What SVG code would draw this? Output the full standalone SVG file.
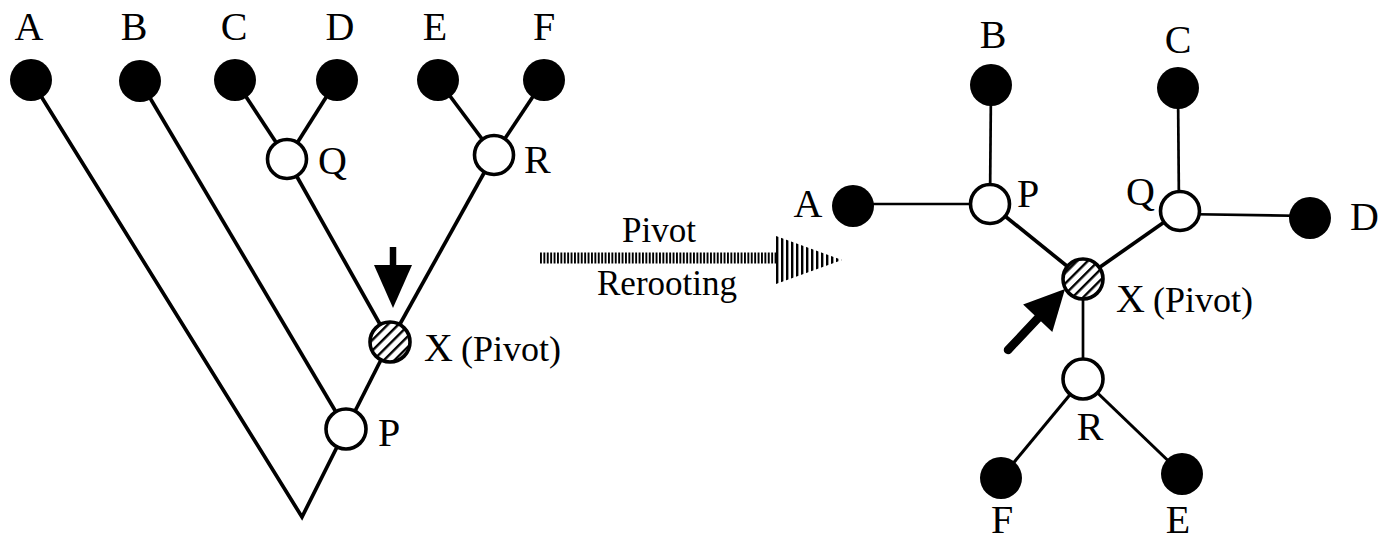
<svg xmlns="http://www.w3.org/2000/svg" width="1381" height="541" viewBox="0 0 1381 541">
  <style>
    .edge { stroke: #000; stroke-width: 3.7; fill: none; stroke-linejoin: miter; }
    .thin { stroke-width: 2.7; }
    .leaf { fill: #000; }
    .inner { fill: #fff; stroke: #000; stroke-width: 3.6; }
    .pivot { fill: url(#hatch); stroke: #000; stroke-width: 3.6; }
    .lbl { font-family: "Liberation Serif", "Times New Roman", serif; font-size: 40px; fill: #000; }
    .mid { text-anchor: middle; }
    .end { text-anchor: end; }
    .small { font-size: 36px; }
    .cap { font-family: "Liberation Serif", "Times New Roman", serif; font-size: 35px; fill: #000; text-anchor: middle; }
  </style>
  <defs>
    <pattern id="hatch" width="7.5" height="7.5" patternUnits="userSpaceOnUse" patternTransform="rotate(45)">
      <rect width="7.5" height="7.5" fill="#fff"/>
      <rect x="0" y="0" width="2.4" height="7.5" fill="#000"/>
    </pattern>
    <pattern id="stripes" x="776" y="0" width="5" height="10" patternUnits="userSpaceOnUse">
      <rect width="5" height="10" fill="#fff"/>
      <rect x="0" y="0" width="2.4" height="10" fill="#000"/>
    </pattern>
  </defs>
  <rect width="1381" height="541" fill="#fff"/>

  <g id="connectors">
    <!-- left tree -->
    <polyline class="edge" points="31,80 302,517 346,429"/>
    <line class="edge" x1="140" y1="81" x2="346" y2="429"/>
    <line class="edge" x1="346" y1="429" x2="390" y2="342"/>
    <line class="edge" x1="390" y1="342" x2="494" y2="155"/>
    <line class="edge" x1="390" y1="342" x2="287" y2="159"/>
    <line class="edge" x1="235" y1="80" x2="287" y2="159"/>
    <line class="edge" x1="337" y1="80" x2="287" y2="159"/>
    <line class="edge" x1="438" y1="80" x2="494" y2="155"/>
    <line class="edge" x1="544" y1="80" x2="494" y2="155"/>
    <!-- right tree -->
    <line class="edge thin" x1="853" y1="204" x2="990" y2="204"/>
    <line class="edge thin" x1="991" y1="85" x2="990" y2="204"/>
    <line class="edge" x1="990" y1="204" x2="1083" y2="279"/>
    <line class="edge" x1="1180" y1="211" x2="1083" y2="279"/>
    <line class="edge thin" x1="1178" y1="88" x2="1179" y2="211"/>
    <line class="edge thin" x1="1180" y1="214" x2="1310" y2="216"/>
    <line class="edge thin" x1="1083" y1="279" x2="1083" y2="379"/>
    <line class="edge" x1="1083" y1="379" x2="1001" y2="478" style="stroke-width:3.1"/>
    <line class="edge" x1="1083" y1="379" x2="1182" y2="474" style="stroke-width:3.1"/>
  </g>

  <g id="pivot-arrow-left">
    <line x1="393" y1="247" x2="393" y2="270" stroke="#000" stroke-width="6.5"/>
    <polygon points="374,265 412,265 393,308" fill="#000"/>
  </g>
  <g id="pivot-arrow-right">
    <line x1="1008" y1="350" x2="1040" y2="316" stroke="#000" stroke-width="8.5" stroke-linecap="round"/>
    <polygon points="1065,289 1052.3,331.9 1023.1,304.5" fill="#000"/>
  </g>

  <g id="rerooting-arrow">
    <line x1="540" y1="258" x2="776" y2="258" stroke="#000" stroke-width="11" stroke-dasharray="1.9 1.5"/>
    <polygon points="776,236 776,284 842,260" fill="url(#stripes)"/>
    <text class="cap" x="659" y="242">Pivot</text>
    <text class="cap" x="667" y="295">Rerooting</text>
  </g>

  <!-- left tree nodes -->
  <g id="L-A"><circle class="leaf" cx="31" cy="80" r="21"/><text class="lbl mid" x="29" y="40">A</text></g>
  <g id="L-B"><circle class="leaf" cx="140" cy="81" r="21"/><text class="lbl mid" x="134" y="40">B</text></g>
  <g id="L-C"><circle class="leaf" cx="235" cy="80" r="21"/><text class="lbl mid" x="234" y="40">C</text></g>
  <g id="L-D"><circle class="leaf" cx="337" cy="80" r="21"/><text class="lbl mid" x="340" y="40">D</text></g>
  <g id="L-E"><circle class="leaf" cx="438" cy="80" r="21"/><text class="lbl mid" x="435" y="40">E</text></g>
  <g id="L-F"><circle class="leaf" cx="544" cy="80" r="21"/><text class="lbl mid" x="544" y="40">F</text></g>
  <g id="L-Q"><circle class="inner" cx="287" cy="159" r="19.5"/><text class="lbl" x="318" y="174">Q</text></g>
  <g id="L-R"><circle class="inner" cx="494" cy="155" r="19.5"/><text class="lbl" x="524" y="173">R</text></g>
  <g id="L-X"><circle class="pivot" cx="390" cy="342" r="20"/><text class="lbl" x="424" y="361">X<tspan class="small" dx="8">(Pivot)</tspan></text></g>
  <g id="L-P"><circle class="inner" cx="346" cy="429" r="20"/><text class="lbl" x="378" y="446">P</text></g>

  <!-- right tree nodes -->
  <g id="R-A"><circle class="leaf" cx="853" cy="206" r="21"/><text class="lbl mid" x="808" y="217">A</text></g>
  <g id="R-B"><circle class="leaf" cx="991" cy="85" r="21"/><text class="lbl mid" x="993" y="48">B</text></g>
  <g id="R-C"><circle class="leaf" cx="1178" cy="88" r="21"/><text class="lbl mid" x="1178" y="53">C</text></g>
  <g id="R-D"><circle class="leaf" cx="1310" cy="218" r="21"/><text class="lbl" x="1350" y="230">D</text></g>
  <g id="R-P"><circle class="inner" cx="990" cy="204" r="19.5"/><text class="lbl" x="1017" y="207">P</text></g>
  <g id="R-Q"><circle class="inner" cx="1180" cy="211" r="19.5"/><text class="lbl end" x="1155" y="205">Q</text></g>
  <g id="R-X"><circle class="pivot" cx="1083" cy="279" r="20"/><text class="lbl" x="1116" y="312">X<tspan class="small" dx="8">(Pivot)</tspan></text></g>
  <g id="R-R"><circle class="inner" cx="1083" cy="379" r="20"/><text class="lbl mid" x="1090" y="440">R</text></g>
  <g id="R-F"><circle class="leaf" cx="1001" cy="478" r="21"/><text class="lbl mid" x="1002" y="533">F</text></g>
  <g id="R-E"><circle class="leaf" cx="1182" cy="474" r="21"/><text class="lbl mid" x="1178" y="533">E</text></g>
</svg>
